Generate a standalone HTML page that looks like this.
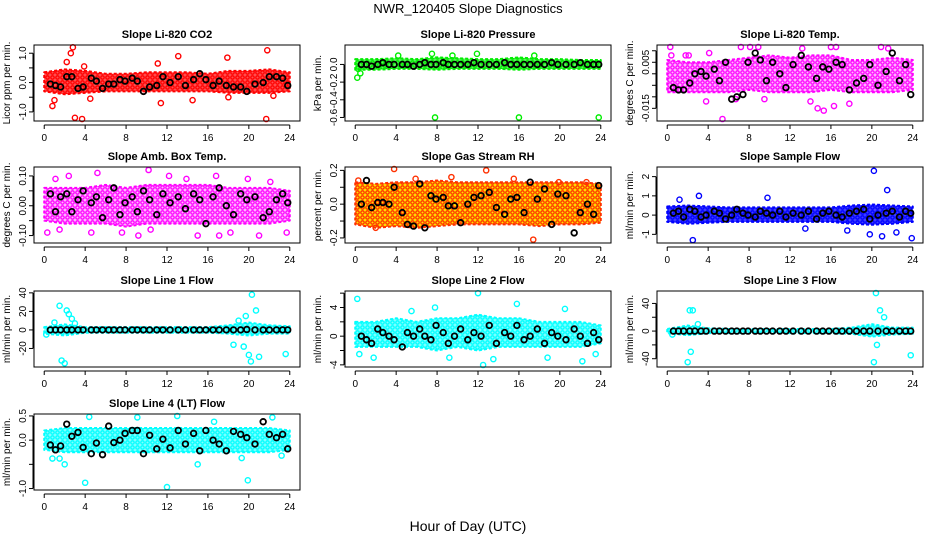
<!DOCTYPE html>
<html><head><meta charset="utf-8">
<style>
html,body{margin:0;padding:0;background:#fff;}
svg{display:block;font-family:"Liberation Sans",Arial,sans-serif;}
</style></head>
<body>
<svg id="chart" width="936" height="540" viewBox="0 0 936 540" xmlns="http://www.w3.org/2000/svg">
<defs id="defs"></defs>
<text x="468" y="13" text-anchor="middle" font-size="13">NWR_120405  Slope Diagnostics</text>
<text x="468" y="531" text-anchor="middle" font-size="14">Hour of Day (UTC)</text>
</svg>
<script>
// shared hours for black (hourly-mean) points
const blackHours=[0.6,1.1,1.6,2.2,2.7,3.3,3.8,4.6,5.1,5.7,6.3,6.8,7.4,7.9,8.6,9.1,9.7,10.3,11.0,11.6,12.3,13.1,13.8,14.6,15.2,15.8,16.5,17.1,17.8,18.5,19.2,19.8,20.6,21.4,22.0,22.7,23.3,23.8];
const bandHours=[0,2,4,6,8,10,12,14,16,18,20,22,24];
const xTicks=[0,4,8,12,16,20,24];

// Panel 1: CO2
const co2Black=[-0.05,-0.1,-0.15,0.2,0.2,-0.2,-0.15,0.15,0.05,-0.2,-0.05,-0.05,0.1,0.05,0.15,0.05,-0.3,-0.15,-0.1,0.2,0.0,0.2,-0.1,0.1,0.3,0.1,-0.1,0.05,-0.1,-0.15,-0.15,-0.3,-0.05,0.0,0.2,0.2,0.15,-0.1];
const co2Lo=[-0.3,-0.4,-0.35,-0.3,-0.3,-0.3,-0.3,-0.3,-0.3,-0.35,-0.35,-0.35,-0.3];
const co2Hi=[0.35,0.45,0.4,0.3,0.3,0.35,0.35,0.35,0.3,0.4,0.4,0.45,0.35];
const co2OutX=[0.8,1.0,2.6,2.8,3.7,3.0,4.5,11.4,13.1,14.5,11.1,17.9,18.0,21.7,21.8,22.4,2.2,3.9];
const co2OutY=[-0.8,-0.6,1.0,1.2,-1.3,-1.2,-0.55,-0.7,0.9,-0.6,0.65,0.85,-0.5,-1.25,1.1,-0.45,0.7,0.55];

// Panel 2: Pressure
const prBlack=[0.0,0.0,-0.02,0.0,0.02,0.0,0.0,0.0,0.0,-0.02,0.0,0.02,0.0,0.0,0.02,0.0,0.0,0.0,0.0,0.02,0.0,0.0,0.0,0.02,0.0,0.0,0.0,0.0,0.0,0.0,0.02,0.0,0.0,0.0,0.02,0.0,0.0,0.0];
const prLo=[-0.06,-0.06,-0.05,-0.05,-0.06,-0.05,-0.05,-0.05,-0.06,-0.05,-0.05,-0.05,-0.05];
const prHi=[0.06,0.06,0.07,0.06,0.08,0.07,0.06,0.06,0.08,0.06,0.06,0.05,0.05];
const prOutX=[0.2,0.5,7.8,16.0,23.8,7.5,9.5,11.9,17.5,4.2,0.3];
const prOutY=[-0.15,-0.1,-0.6,-0.6,-0.6,0.12,0.1,0.12,0.1,0.1,-0.05];

// Panel 3: Li-820 Temp
const tBlack=[-0.006,-0.007,-0.007,-0.004,0.000,0.001,-0.001,0.002,-0.003,0.005,-0.011,-0.010,-0.009,0.005,0.009,0.006,-0.003,0.005,0.000,-0.006,0.004,0.008,0.003,-0.002,0.003,0.002,0.005,0.004,-0.007,-0.004,-0.002,0.004,-0.005,0.001,0.009,-0.003,0.004,-0.009];
const tLo=[-0.008,-0.008,-0.008,-0.008,-0.007,-0.008,-0.008,-0.008,-0.007,-0.008,-0.008,-0.008,-0.007];
const tHi=[0.006,0.005,0.005,0.006,0.007,0.008,0.007,0.008,0.008,0.006,0.006,0.007,0.006];
const tOutX=[0.3,0.4,1.8,3.8,5.4,6.7,7.2,8.1,8.9,9.5,13.2,14.7,15.3,16.0,16.5,17.8,20.9,21.6,2.1,4.1,14.0,16.3];
const tOutY=[0.012,0.008,0.008,-0.012,-0.020,-0.011,0.012,0.013,0.012,-0.011,0.011,-0.015,-0.016,0.012,0.014,-0.013,0.012,0.011,0.008,0.009,-0.012,-0.014];

// Panel 4: Amb. Box Temp
const aBlack=[0.04,-0.02,0.03,0.04,-0.02,0.02,0.05,0.01,0.03,-0.04,0.02,0.06,-0.03,0.01,0.03,-0.02,0.05,0.02,-0.03,0.04,0.01,0.03,-0.01,0.04,0.02,-0.06,0.03,0.06,0.00,-0.03,0.04,0.02,0.03,-0.04,-0.02,0.02,0.04,0.01];
const aLo=[-0.05,-0.06,-0.06,-0.06,-0.07,-0.06,-0.06,-0.06,-0.06,-0.06,-0.06,-0.06,-0.05];
const aHi=[0.06,0.06,0.06,0.07,0.06,0.07,0.07,0.07,0.07,0.06,0.06,0.06,0.05];
const aOutX=[0.3,1.5,2.4,4.6,5.2,7.6,9.2,10.2,10.4,13.9,15.0,16.8,18.2,19.9,21.0,22.1,23.7,1.1,12.2,17.1];
const aOutY=[-0.09,-0.08,0.1,-0.09,0.11,-0.09,-0.1,0.12,-0.08,0.09,-0.1,0.1,-0.09,0.09,-0.1,0.08,-0.09,0.09,0.1,-0.1];

// Panel 5: Gas Stream RH
const rBlack=[0.0,0.14,-0.02,0.01,0.01,0.0,0.1,-0.05,-0.12,-0.13,0.12,-0.14,0.05,0.03,0.04,-0.01,-0.01,-0.11,0.0,0.04,0.05,0.07,-0.02,-0.06,0.03,0.04,-0.05,0.13,0.03,0.09,-0.12,0.06,0.05,-0.17,-0.05,0.0,-0.06,0.11];
const rLo=[-0.12,-0.14,-0.13,-0.14,-0.13,-0.12,-0.12,-0.12,-0.12,-0.13,-0.12,-0.12,-0.11];
const rHi=[0.13,0.12,0.13,0.13,0.14,0.13,0.13,0.13,0.13,0.13,0.13,0.13,0.12];
const rOutX=[0.3,3.8,5.9,9.4,12.8,17.4,19.9,2.0,15.5,22.6];
const rOutY=[0.14,0.21,0.15,0.16,0.2,-0.21,0.13,-0.14,0.15,0.13];

// Panel 6: Sample Flow
const sBlack=[0.1,0.2,-0.1,0.3,0.2,-0.1,0.0,0.2,0.1,-0.2,0.0,0.3,0.1,0.0,-0.1,0.2,0.1,0.0,0.2,-0.1,0.1,0.0,0.2,-0.2,0.1,0.2,0.0,-0.1,0.1,0.2,0.3,-0.2,0.0,0.1,0.2,-0.1,0.2,0.1];
const sLo=[-0.35,-0.45,-0.4,-0.35,-0.35,-0.35,-0.35,-0.35,-0.35,-0.45,-0.5,-0.45,-0.35];
const sHi=[0.45,0.5,0.45,0.4,0.4,0.4,0.4,0.4,0.4,0.5,0.55,0.5,0.45];
const sOutX=[2.5,1.2,3.1,20.2,19.8,21.5,22.4,23.9,17.6,9.8,13.5,21.0];
const sOutY=[-1.3,0.8,1.0,2.3,-1.0,1.3,-0.9,-1.2,-0.8,0.9,-0.7,-1.1];

// Panel 7: Line 1 Flow
const l1Black=[0,0,0,0,0,0,0,0,0,0,0,0,0,0,0,0,0,0,0,0,0,0,0,0,0,0,0,0,0,0,0,0.5,0,0,0,0,0,0];
const l1Lo=[-4,-6,-3,-3,-3,-3,-3,-3,-3,-4,-6,-4,-4];
const l1Hi=[3,6,3,3,3,3,3,3,3,5,8,5,4];
const l1OutX=[1.5,1.7,2.0,2.2,2.4,2.7,18.5,19.0,19.5,19.7,20.0,20.2,20.3,20.7,21.0,23.6,0.2,1.0,3.0];
const l1OutY=[26,-33,-36,21,17,12,-16,10,-18,15,-27,-34,38,21,-29,-26,-5,8,7];

// Panel 8: Line 2 Flow
const l2Black=[0.0,-0.5,-1.0,1.0,0.5,0.0,-0.5,-1.5,0.5,0.0,1.0,0.0,-0.5,1.5,0.5,-1.0,0.0,1.0,-0.5,0.5,0.0,1.5,-1.0,0.5,0.0,1.5,-0.5,0.0,1.0,-1.0,0.5,0.0,-0.5,1.0,0.0,-1.0,0.5,-0.5];
const l2Lo=[-1.5,-1.5,-1.5,-1.5,-2.0,-1.5,-2.0,-1.5,-1.5,-1.5,-1.5,-1.5,-1.0];
const l2Hi=[2.0,2.0,2.5,2.0,2.5,2.5,3.0,2.5,2.5,2.0,2.0,2.0,1.5];
const l2OutX=[0.2,0.4,12.0,12.5,13.5,7.8,15.8,9.2,20.5,23.5,1.8,5.5,18.8,22.2];
const l2OutY=[5.2,-2.5,6.0,-4.5,-3.2,4.0,4.5,-3.0,3.8,-2.5,-3.0,3.5,-3.0,-3.5];

// Panel 9: Line 3 Flow
const l3Black=[0,0,0,0,0,0,0,0,0,0,0,0,0,0,0,0,0,0,0,0,0,0,0,0,0,0,0,0,0,0,0,0,0,0,0,0,0,0];
const l3Lo=[-3,-6,-3,-3,-3,-2,-3,-3,-3,-4,-8,-5,-4];
const l3Hi=[3,8,4,3,3,3,3,3,3,5,10,5,5];
const l3OutX=[2.2,2.5,2.0,2.3,3.0,20.2,20.4,20.5,20.8,21.2,23.8,0.5];
const l3OutY=[30,30,-45,-30,10,-45,55,-20,30,20,-35,-5];

// Panel 10: Line 4 (LT) Flow
const l4Black=[-0.1,-0.2,-0.12,0.33,0.08,0.16,-0.15,-0.28,-0.06,-0.3,0.29,-0.05,0.0,0.14,0.2,0.2,-0.28,0.1,-0.18,0.02,-0.16,0.2,-0.08,0.14,-0.22,0.2,0.0,-0.08,-0.22,0.18,0.12,0.05,-0.08,0.38,0.12,0.05,0.12,-0.18];
const l4Lo=[-0.2,-0.25,-0.25,-0.25,-0.25,-0.25,-0.25,-0.25,-0.25,-0.25,-0.25,-0.25,-0.2];
const l4Hi=[0.2,0.25,0.25,0.25,0.25,0.25,0.25,0.25,0.25,0.25,0.25,0.25,0.2];
const l4OutX=[4.0,12.0,19.9,2.0,0.8,1.5,4.4,13.0,15.0,16.6,22.3,9.1,19.3,23.2];
const l4OutY=[-0.88,-0.97,-0.83,-0.5,-0.38,-0.38,0.48,0.5,-0.5,0.38,0.47,0.47,-0.37,-0.32];

const panels=[
 {name:'co2',title:'Slope Li-820 CO2',ylab:'Licor ppm per min.',col:'#ff0000',bg:'#ff5050',dom:[-1.31,1.28],ticks:[-1,-0.5,0,0.5,1],tl:['-1.0','','0.0','','1.0'],b:co2Black,lo:co2Lo,hi:co2Hi,ox:co2OutX,oy:co2OutY},
 {name:'pressure',title:'Slope Li-820 Pressure',ylab:'kPa per min.',col:'#00ee00',bg:'#60f060',dom:[-0.64,0.22],ticks:[-0.6,-0.4,-0.2,0],tl:['-0.6','-0.4','-0.2','0.0'],b:prBlack,lo:prLo,hi:prHi,ox:prOutX,oy:prOutY},
 {name:'temp',title:'Slope Li-820 Temp.',ylab:'degrees C per min.',col:'#ff00ff',bg:'#ffb8ff',dom:[-0.0205,0.0125],ticks:[-0.015,-0.01,-0.005,0,0.005,0.01],tl:['-0.015','','','','0.005',''],b:tBlack,lo:tLo,hi:tHi,ox:tOutX,oy:tOutY},
 {name:'amb-box-temp',title:'Slope Amb. Box Temp.',ylab:'degrees C per min.',col:'#ff00ff',bg:'#ffb8ff',dom:[-0.125,0.13],ticks:[-0.1,-0.05,0,0.05,0.1],tl:['-0.10','','0.00','','0.10'],b:aBlack,lo:aLo,hi:aHi,ox:aOutX,oy:aOutY},
 {name:'gas-stream-rh',title:'Slope Gas Stream RH',ylab:'percent per min.',col:'#ff3000',bg:'#ffe000',dom:[-0.23,0.22],ticks:[-0.2,-0.1,0,0.1,0.2],tl:['-0.2','','0.0','','0.2'],b:rBlack,lo:rLo,hi:rHi,ox:rOutX,oy:rOutY},
 {name:'sample-flow',title:'Slope Sample Flow',ylab:'ml/min per min.',col:'#0000ff',bg:'#4040ff',dom:[-1.45,2.5],ticks:[-1,0,1,2],tl:['-1','0','1','2'],b:sBlack,lo:sLo,hi:sHi,ox:sOutX,oy:sOutY},
 {name:'line1-flow',title:'Slope Line 1 Flow',ylab:'ml/min per min.',col:'#00ffff',bg:'#80ffff',dom:[-40,42],ticks:[-20,0,20,40],tl:['-20','0','20','40'],b:l1Black,lo:l1Lo,hi:l1Hi,ox:l1OutX,oy:l1OutY},
 {name:'line2-flow',title:'Slope Line 2 Flow',ylab:'ml/min per min.',col:'#00ffff',bg:'#80ffff',dom:[-4.3,6.3],ticks:[-4,-2,0,2,4,6],tl:['-4','','0','','4',''],b:l2Black,lo:l2Lo,hi:l2Hi,ox:l2OutX,oy:l2OutY},
 {name:'line3-flow',title:'Slope Line 3 Flow',ylab:'ml/min per min.',col:'#00ffff',bg:'#80ffff',dom:[-52,58],ticks:[-40,-20,0,20,40],tl:['-40','','0','','40'],b:l3Black,lo:l3Lo,hi:l3Hi,ox:l3OutX,oy:l3OutY},
 {name:'line4-flow',title:'Slope Line 4 (LT) Flow',ylab:'ml/min per min.',col:'#00ffff',bg:'#80ffff',dom:[-1.03,0.54],ticks:[-1,-0.5,0,0.5],tl:['-1.0','','0.0','0.5'],b:l4Black,lo:l4Lo,hi:l4Hi,ox:l4OutX,oy:l4OutY}
];
const NS='http://www.w3.org/2000/svg';
const svg=document.getElementById('chart');
const defs=document.getElementById('defs');
function mk(tag,attrs,parent){const e=document.createElementNS(NS,tag);for(const k in attrs)e.setAttribute(k,attrs[k]);(parent||svg).appendChild(e);return e;}
const colL=[34,345,657],rowT=[45,167,291,414],W=266,H=76;
panels.forEach((p,i)=>{
  const L=colL[i%3],T=rowT[Math.floor(i/3)];
  const pat=mk('pattern',{id:'pat'+i,width:5,height:5,patternUnits:'userSpaceOnUse'},defs);
  mk('rect',{x:0,y:0,width:5,height:5,fill:p.bg},pat);
  mk('circle',{cx:2.5,cy:2.5,r:1.7,fill:'none',stroke:p.col,'stroke-width':1.3},pat);
  const g=mk('g',{});
  
  
  const xs=h=>L+(h+1)/26*W;
  const ys=v=>T+H-(v-p.dom[0])/(p.dom[1]-p.dom[0])*H;
  const cx=v=>Math.max(T+2,Math.min(T+H-2,ys(v)));
  let pts=bandHours.map((h,j)=>xs(h)+','+ys(p.hi[j])).concat(bandHours.slice().reverse().map((h,j)=>xs(h)+','+ys(p.lo[bandHours.length-1-j])));
  const band=mk('polygon',{points:pts.join(' '),fill:'url(#pat'+i+')',stroke:p.col,'stroke-width':2,'stroke-dasharray':'3 2','stroke-linejoin':'round'},g);
  
  
  p.ox.forEach((h,j)=>{
    const c=mk('circle',{cx:xs(h),cy:cx(p.oy[j]),r:2.6,fill:'none',stroke:p.col,'stroke-width':1.4},g);
    
    
  });
  blackHours.forEach((h,j)=>{
    const c=mk('circle',{cx:xs(h),cy:cx(p.b[j]),r:2.8,fill:'none',stroke:'#000','stroke-width':1.8},g);
    
    
  });
  const box=mk('rect',{x:L,y:T,width:W,height:H,fill:'none',stroke:'#000','stroke-width':1},g);
  
  
  const t=mk('text',{x:L+W/2,y:T-7,'text-anchor':'middle','font-size':11,'font-weight':'bold'},g);
  t.textContent=p.title;
  
  
  const xa=mk('g',{},g);
  
  
  mk('line',{x1:xs(0),x2:xs(24),y1:T+H+4,y2:T+H+4,stroke:'#000'},xa);
  xTicks.forEach(v=>{
    mk('line',{x1:xs(v),x2:xs(v),y1:T+H+4,y2:T+H+8,stroke:'#000'},xa);
    const tx=mk('text',{x:xs(v),y:T+H+20,'text-anchor':'middle','font-size':10},xa);
    tx.textContent=v;
    
    
  });
  const ya=mk('g',{},g);
  
  
  mk('line',{x1:L-1,x2:L-1,y1:ys(p.ticks[0]),y2:ys(p.ticks[p.ticks.length-1]),stroke:'#000'},ya);
  p.ticks.forEach((v,j)=>{
    const y=ys(v);
    mk('line',{x1:L-5,x2:L-1,y1:y,y2:y,stroke:'#000'},ya);
    if(p.tl[j]){
      const ty=mk('text',{x:L-8,y:y,'text-anchor':'middle','font-size':10,transform:`rotate(-90 ${L-8} ${y})`},ya);
      ty.textContent=p.tl[j];
      
      
    }
  });
  const yl=mk('text',{x:L-24,y:T+H/2,'text-anchor':'middle','font-size':10,transform:`rotate(-90 ${L-24} ${T+H/2})`},g);
  yl.textContent=p.ylab;
  
  
});
</script>
</body></html>
